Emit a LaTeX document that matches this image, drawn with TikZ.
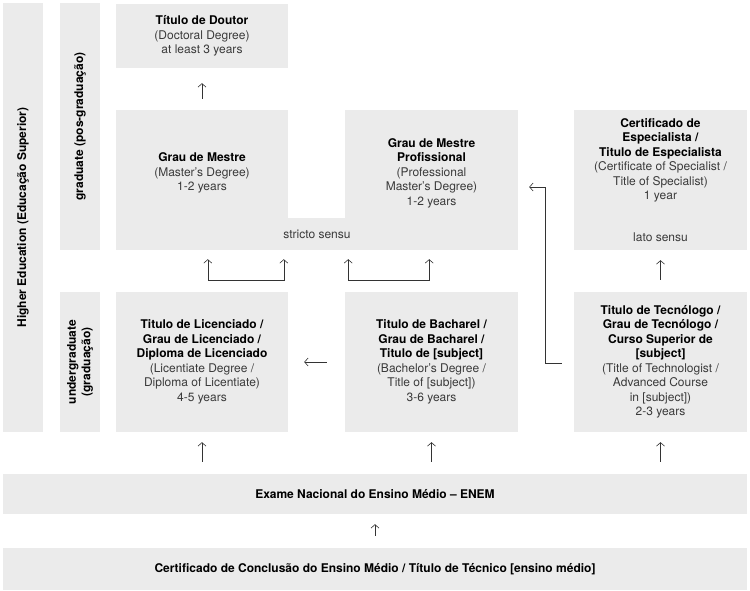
\documentclass[tikz,border=0pt]{standalone}
\usepackage{fontspec}
\setmainfont{TeX Gyre Heros}
\usetikzlibrary{arrows.meta}
\definecolor{boxgray}{HTML}{EBEBEB}
\definecolor{txtgray}{HTML}{3A3A3A}
\definecolor{arrgray}{HTML}{333333}
\newcommand{\hd}[1]{{\bfseries\color{black}#1}}
\begin{document}
\begin{tikzpicture}[x=1pt,y=1pt,
    box/.style={fill=boxgray, align=center, text=txtgray},
    conn/.style={draw=arrgray, line width=0.6pt, -{Straight Barb[length=3.5pt,width=8pt]}},
    conn2/.style={draw=arrgray, line width=0.6pt, {Straight Barb[length=3.5pt,width=8pt]}-{Straight Barb[length=3.5pt,width=8pt]}},
    gapped/.style={shorten <=12pt, shorten >=10pt}]
    \tikzstyle{every node}+=[inner sep=0pt, font=\fontsize{12}{14.5}\selectfont]
    \useasboundingbox (0,0) rectangle (750,-590);
    % side bars
    \node [box, rotate=90, minimum width=429, minimum height=40] (he) at (23,-217.5) {\hd{Higher Education (Educação Superior)}};
    \node [box, rotate=90, minimum width=247, minimum height=40] (gr) at (80,-126.5) {\hd{graduate (pos-graduação)}};
    \node [box, rotate=90, minimum width=140, minimum height=40] (ug) at (80,-362) {\hd{undergraduate}\\\hd{(graduação)}};
    % graduate
    \node [box, minimum width=172, minimum height=64] (dou) at (202,-36) {\hd{Título de Doutor}\\(Doctoral Degree)\\at least 3 years};
    \node [box, minimum width=172, minimum height=126] (mes) at (202,-173) {\hd{Grau de Mestre}\\(Master's Degree)\\1-2 years};
    \node [box, minimum width=173, minimum height=126] (pro) at (431.5,-173) {\hd{Grau de Mestre}\\\hd{Profissional}\\(Professional\\Master's Degree)\\1-2 years};
    \node [box, minimum width=402, minimum height=32] (sen) at (317,-234) {stricto sensu};
    \node [box, minimum width=173, minimum height=140] (esp) at (660.5,-180) {\hd{Certificado de}\\\hd{Especialista /}\\\hd{Titulo de Especialista}\\(Certificate of Specialist /\\Title of Specialist)\\1 year\\[27pt]lato sensu};
    % undergraduate
    \node [box, minimum width=172, minimum height=140] (lic) at (202,-362) {\hd{Titulo de Licenciado /}\\\hd{Grau de Licenciado /}\\\hd{Diploma de Licenciado}\\(Licentiate Degree /\\Diploma of Licentiate)\\4-5 years};
    \node [box, minimum width=173, minimum height=140] (bac) at (431.5,-362) {\hd{Titulo de Bacharel /}\\\hd{Grau de Bacharel /}\\\hd{Titulo de [subject]}\\(Bachelor's Degree /\\Title of [subject])\\3-6 years};
    \node [box, minimum width=173, minimum height=140] (tec) at (660.5,-362) {\hd{Titulo de Tecnólogo /}\\\hd{Grau de Tecnólogo /}\\\hd{Curso Superior de}\\\hd{[subject]}\\(Title of Technologist /\\Advanced Course\\in [subject])\\2-3 years};
    % school
    \node [box, minimum width=744, minimum height=40] (enem) at (375,-494) {\hd{Exame Nacional do Ensino Médio – ENEM}};
    \node [box, minimum width=744, minimum height=42] (cert) at (375,-569) {\hd{Certificado de Conclusão do Ensino Médio / Título de Técnico [ensino médio]}};
    % arrows
    \draw [conn, shorten <=11pt, shorten >=15pt] (mes.north) -- (dou.south);
    \draw [conn, gapped] (tec.north) -- (esp.south);
    \draw [conn, gapped] (enem.north -| lic.south) -- (lic.south);
    \draw [conn, gapped] (enem.north -| bac.south) -- (bac.south);
    \draw [conn, gapped] (enem.north -| tec.south) -- (tec.south);
    \draw [conn, gapped] (cert.north) -- (enem.south);
    \draw [conn, shorten <=18pt, shorten >=16pt] (bac.west) -- (lic.east);
    \draw [conn2] ([shift={(92,-9)}]sen.south west) |- ([shift={(168,-30)}]sen.south west) -- ([shift={(168,-9)}]sen.south west);
    \draw [conn2] ([shift={(-170,-9)}]sen.south east) |- ([shift={(-89,-30)}]sen.south east) -- ([shift={(-89,-9)}]sen.south east);
    \draw [conn] ([shift={(-12,-1)}]tec.west) -- ++(-17,0) |- ([shift={(11,-14)}]pro.east);
\end{tikzpicture}
\end{document}
